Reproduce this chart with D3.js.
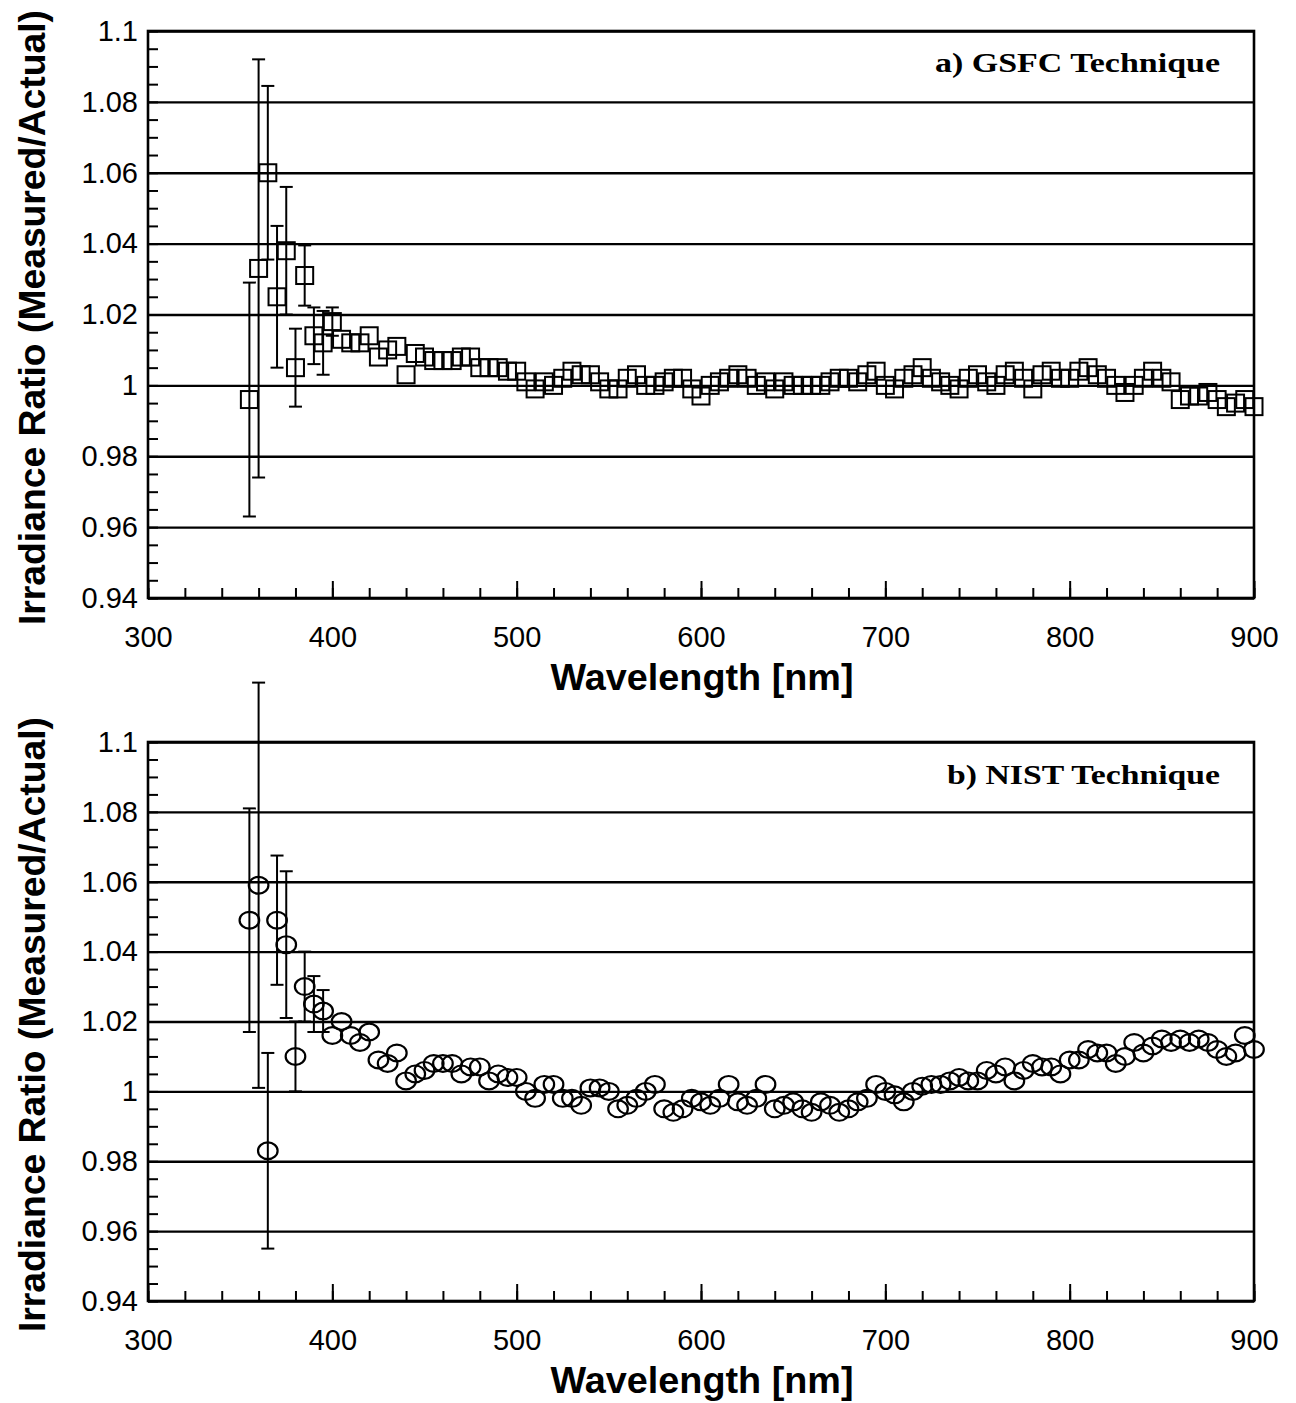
<!DOCTYPE html>
<html>
<head>
<meta charset="utf-8">
<script src="https://cdn.jsdelivr.net/npm/d3@7"></script>
<style>
  body { margin: 0; background: #fff; }
  text { fill: #000; }
</style>
</head>
<body>
<svg id="chart" width="1296" height="1403"></svg>
<script>
// Measurement wavelengths [nm], shared by both techniques
const wavelengths = [
  355, 360, 365, 370, 375, 380, 385, 390, 395, 400,
  405, 410, 415, 420, 425, 430, 435, 440, 445, 450,
  455, 460, 465, 470, 475, 480, 485, 490, 495, 500,
  505, 510, 515, 520, 525, 530, 535, 540, 545, 550,
  555, 560, 565, 570, 575, 580, 585, 590, 595, 600,
  605, 610, 615, 620, 625, 630, 635, 640, 645, 650,
  655, 660, 665, 670, 675, 680, 685, 690, 695, 700,
  705, 710, 715, 720, 725, 730, 735, 740, 745, 750,
  755, 760, 765, 770, 775, 780, 785, 790, 795, 800,
  805, 810, 815, 820, 825, 830, 835, 840, 845, 850,
  855, 860, 865, 870, 875, 880, 885, 890, 895, 900
];

// a) GSFC technique: measured/actual irradiance ratio
const ratioGSFC = [
  0.996, 1.033, 1.060, 1.025, 1.038, 1.005, 1.031, 1.014, 1.012, 1.018,
  1.013, 1.012, 1.012, 1.014, 1.008, 1.010, 1.011, 1.003, 1.009, 1.008,
  1.007, 1.007, 1.007, 1.008, 1.008, 1.005, 1.005, 1.005, 1.004, 1.004,
  1.001, 0.999, 1.001, 1.000, 1.002, 1.004, 1.003, 1.003, 1.001, 0.999,
  0.999, 1.002, 1.003, 1.000, 1.000, 1.001, 1.002, 1.002, 0.999, 0.997,
  1.000, 1.001, 1.002, 1.003, 1.002, 1.000, 1.001, 0.999, 1.001, 1.000,
  1.000, 1.000, 1.000, 1.001, 1.002, 1.002, 1.001, 1.003, 1.004, 1.000,
  0.999, 1.002, 1.003, 1.005, 1.002, 1.001, 1.000, 0.999, 1.002, 1.003,
  1.001, 1.000, 1.003, 1.004, 1.002, 0.999, 1.003, 1.004, 1.002, 1.002,
  1.004, 1.005, 1.003, 1.002, 1.000, 0.998, 1.000, 1.002, 1.004, 1.002,
  1.001, 0.996, 0.997, 0.997, 0.998, 0.996, 0.994, 0.995, 0.996, 0.994
];
// uncertainty (±) of the first GSFC points, UV end
const errGSFC = [0.033, 0.059, 0.0245, 0.020, 0.018, 0.011, 0.0085, 0.008, 0.009, 0.004];

// b) NIST technique: measured/actual irradiance ratio
const ratioNIST = [
  1.049, 1.059, 0.983, 1.049, 1.042, 1.010, 1.030, 1.025, 1.023, 1.016,
  1.020, 1.016, 1.014, 1.017, 1.009, 1.008, 1.011, 1.003, 1.005, 1.006,
  1.008, 1.008, 1.008, 1.005, 1.007, 1.007, 1.003, 1.005, 1.004, 1.004,
  1.000, 0.998, 1.002, 1.002, 0.998, 0.998, 0.996, 1.001, 1.001, 1.000,
  0.995, 0.996, 0.998, 1.000, 1.002, 0.995, 0.994, 0.995, 0.998, 0.997,
  0.996, 0.998, 1.002, 0.997, 0.996, 0.998, 1.002, 0.995, 0.996, 0.997,
  0.995, 0.994, 0.997, 0.996, 0.994, 0.995, 0.997, 0.998, 1.002, 1.000,
  0.999, 0.997, 1.000, 1.0015, 1.002, 1.002, 1.003, 1.004, 1.003, 1.003,
  1.006, 1.005, 1.007, 1.003, 1.006, 1.008, 1.007, 1.007, 1.005, 1.009,
  1.009, 1.012, 1.011, 1.011, 1.008, 1.010, 1.014, 1.011, 1.013, 1.015,
  1.014, 1.015, 1.014, 1.015, 1.014, 1.012, 1.010, 1.011, 1.016, 1.012
];
// uncertainty (±) of the first NIST points
const errNIST = [0.032, 0.058, 0.028, 0.0185, 0.021, 0.010, 0.010, 0.008, 0.006];

// axis ticks
const xTicks = [300, 400, 500, 600, 700, 800, 900];
const xTickLabels = ["300", "400", "500", "600", "700", "800", "900"];
const yTicks = [0.94, 0.96, 0.98, 1.0, 1.02, 1.04, 1.06, 1.08, 1.1];
const yTickLabels = ["0.94", "0.96", "0.98", "1", "1.02", "1.04", "1.06", "1.08", "1.1"];
const xMinorStep = 20;
const yMinorStep = 0.005;

const panelTitles = ["a)  GSFC Technique", "b)  NIST Technique"];
const xTitle = "Wavelength [nm]";
const yTitle = "Irradiance Ratio (Measured/Actual)";

const svg = d3.select("#chart");
const sans = "'Liberation Sans', Arial, Helvetica, sans-serif";
const serif = "'Liberation Serif', 'Times New Roman', Times, serif";

const left = 148, right = 1254;

const panels = [
  { top: 31, bottom: 598, values: ratioGSFC, errors: errGSFC, marker: "square",
    title: panelTitles[0], titleY: 72, titleLen: 285 },
  { top: 742, bottom: 1301, values: ratioNIST, errors: errNIST, marker: "circle",
    title: panelTitles[1], titleY: 784, titleLen: 273 }
];

function drawPanel(p) {
  const g = svg.append("g");
  const x = d3.scaleLinear().domain([300, 900]).range([left, right]);
  const y = d3.scaleLinear().domain([0.94, 1.1]).range([p.bottom, p.top]);
  const w = right - left;

  const minorY = d3.range(0, 33).map(i => +(0.94 + i * yMinorStep).toFixed(3));
  const minorX = d3.range(0, 31).map(i => 300 + i * xMinorStep);

  // horizontal gridlines at the labelled values
  g.append("g")
    .attr("transform", `translate(${left},0)`)
    .call(d3.axisLeft(y).tickValues(yTicks).tickSize(-w).tickFormat(""))
    .call(s => {
      s.select(".domain").remove();
      s.selectAll("line").attr("stroke", "#000").attr("stroke-width", 2.4);
    });

  // minor y ticks, pointing inward
  g.append("g")
    .attr("transform", `translate(${left},0)`)
    .call(d3.axisLeft(y).tickValues(minorY).tickSize(-10).tickFormat(""))
    .call(s => {
      s.select(".domain").remove();
      s.selectAll("line").attr("stroke", "#000").attr("stroke-width", 2);
    });

  // y tick labels
  g.append("g")
    .attr("transform", `translate(${left},0)`)
    .call(d3.axisLeft(y).tickValues(yTicks).tickSize(0).tickPadding(10)
      .tickFormat((d, i) => yTickLabels[i]))
    .call(s => {
      s.select(".domain").remove();
      s.selectAll("text").attr("font-family", sans).attr("font-size", 29).attr("fill", "#000");
    });

  // x minor and major ticks, pointing inward
  g.append("g")
    .attr("transform", `translate(0,${p.bottom})`)
    .call(d3.axisBottom(x).tickValues(minorX).tickSize(-10).tickFormat(""))
    .call(s => {
      s.select(".domain").remove();
      s.selectAll("line").attr("stroke", "#000").attr("stroke-width", 2);
    });
  g.append("g")
    .attr("transform", `translate(0,${p.bottom})`)
    .call(d3.axisBottom(x).tickValues(xTicks).tickSize(-17).tickPadding(28)
      .tickFormat((d, i) => xTickLabels[i]))
    .call(s => {
      s.select(".domain").remove();
      s.selectAll("line").attr("stroke", "#000").attr("stroke-width", 2);
      s.selectAll("text").attr("font-family", sans).attr("font-size", 29).attr("fill", "#000");
    });

  // plot frame
  g.append("rect")
    .attr("x", left).attr("y", p.top)
    .attr("width", w).attr("height", p.bottom - p.top)
    .attr("fill", "none").attr("stroke", "#000").attr("stroke-width", 2.6);

  const pts = wavelengths.map((wl, i) => ({ wl, v: p.values[i], e: p.errors[i] }));

  // error bars at the UV end
  const eb = g.append("g").attr("stroke", "#000").attr("stroke-width", 2).attr("fill", "none");
  pts.filter(d => d.e !== undefined).forEach(d => {
    const cx = x(d.wl), y1 = y(d.v + d.e), y2 = y(d.v - d.e);
    eb.append("line").attr("x1", cx).attr("x2", cx).attr("y1", y1).attr("y2", y2);
    eb.append("line").attr("x1", cx - 6.5).attr("x2", cx + 6.5).attr("y1", y1).attr("y2", y1);
    eb.append("line").attr("x1", cx - 6.5).attr("x2", cx + 6.5).attr("y1", y2).attr("y2", y2);
  });

  // markers
  const mk = g.append("g").attr("fill", "none").attr("stroke", "#000");
  if (p.marker === "square") {
    mk.selectAll("rect").data(pts).join("rect")
      .attr("x", d => x(d.wl) - 8.5).attr("y", d => y(d.v) - 8.5)
      .attr("width", 17).attr("height", 17)
      .attr("stroke-width", 2);
  } else {
    mk.selectAll("ellipse").data(pts).join("ellipse")
      .attr("cx", d => x(d.wl)).attr("cy", d => y(d.v))
      .attr("rx", 9.8).attr("ry", 8.4)
      .attr("stroke-width", 2.2);
  }

  // panel label
  g.append("text")
    .attr("x", 1220).attr("y", p.titleY)
    .attr("text-anchor", "end")
    .attr("font-family", serif).attr("font-weight", "bold").attr("font-size", 28)
    .attr("textLength", p.titleLen).attr("lengthAdjust", "spacingAndGlyphs")
    .text(p.title);

  // axis titles
  g.append("text")
    .attr("x", (left + right) / 2 + 1).attr("y", p.bottom + 92)
    .attr("text-anchor", "middle")
    .attr("font-family", sans).attr("font-weight", "bold").attr("font-size", 36)
    .attr("textLength", 303).attr("lengthAdjust", "spacingAndGlyphs")
    .text(xTitle);

  const cy = (p.top + p.bottom) / 2 + 3;
  g.append("text")
    .attr("transform", `translate(45,${cy}) rotate(-90)`)
    .attr("text-anchor", "middle")
    .attr("font-family", sans).attr("font-weight", "bold").attr("font-size", 36)
    .attr("textLength", 615).attr("lengthAdjust", "spacingAndGlyphs")
    .text(yTitle);
}

panels.forEach(drawPanel);
</script>
</body>
</html>
